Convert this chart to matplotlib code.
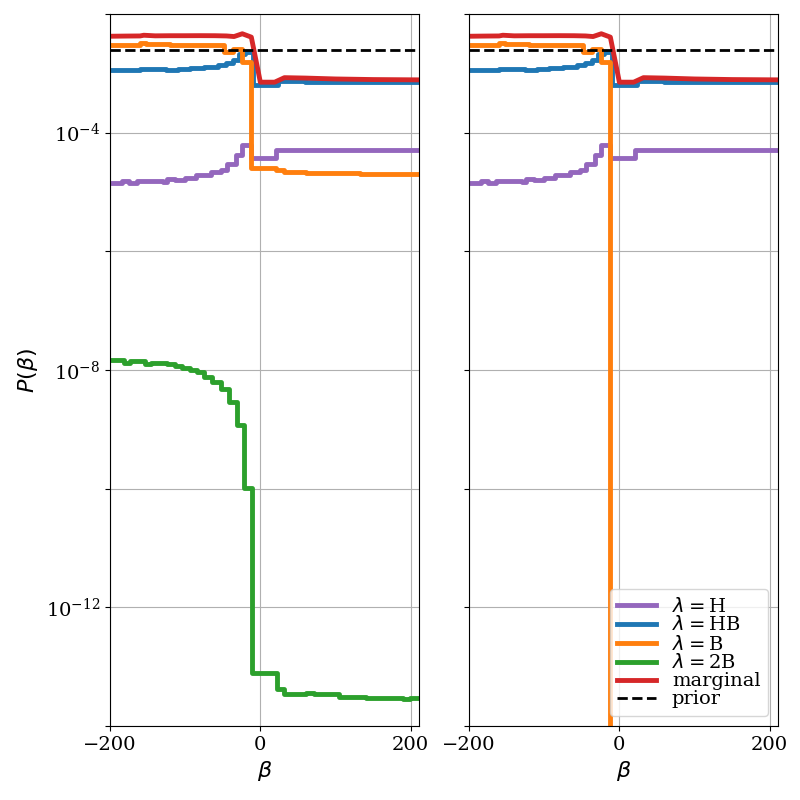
import numpy as np
import matplotlib
matplotlib.use('Agg')
import matplotlib.pyplot as plt

# step breakpoints (beta) and log10 P(beta)
beta_h = [-200, -184, -175, -164, -130, -124, -113, -100, -86, -66, -52, -44, -32, -24, -12, 21, 61, 211]
logp_h = [-4.84, -4.81, -4.84, -4.81, -4.825, -4.78, -4.79, -4.76, -4.72, -4.67, -4.63, -4.53, -4.38, -4.21,
          -4.42, -4.30, -4.29, -4.29]

beta_hb = [-200, -182, -160, -137, -126, -110, -93, -75, -57, -46, -37, -28, -21, -10, 23, 60, 211]
logp_hb = [-2.952, -2.945, -2.935, -2.93, -2.945, -2.92, -2.905, -2.885, -2.86, -2.83, -2.78, -2.67, -2.645,
           -3.204, -3.137, -3.152, -3.152]

beta_b = [-200, -160, -152, -120, -48, -37, -24, -12, 21, 32, 61, 132, 211]
logp_b = [-2.53, -2.495, -2.51, -2.515, -2.643, -2.587, -2.81, -4.59, -4.623, -4.663, -4.68, -4.70, -4.70]

# right panel: lambda = B drops to zero after the jump
beta_b_right = [-200, -160, -152, -120, -48, -37, -24, -12, 211]
logp_b_right = [-2.53, -2.495, -2.51, -2.515, -2.643, -2.587, -2.81, -300, -300]

beta_2b = [-200, -182, -173, -153, -146, -124, -113, -104, -93, -84, -75, -64, -53, -42, -31, -22, -11,
           22, 32, 61, 72, 105, 141, 190, 199, 211]
logp_2b = [-7.831, -7.877, -7.853, -7.899, -7.882, -7.899, -7.927, -7.960, -8.0, -8.039, -8.112, -8.196,
           -8.325, -8.533, -8.925, -9.99, -13.103, -13.372, -13.468, -13.44, -13.468, -13.507, -13.524,
           -13.55, -13.524, -13.524]
# right panel: lambda = 2B is zero everywhere
beta_2b_right = [-200, 211]
logp_2b_right = [-300, -300]

beta_m = [-200, -180, -160, -155, -140, -120, -100, -80, -60, -45, -35, -24, -12, 0, 19, 32, 60, 100, 150, 211]
logp_m = [-2.375, -2.372, -2.37, -2.358, -2.368, -2.366, -2.366, -2.365, -2.366, -2.37, -2.38, -2.333, -2.39,
          -3.149, -3.149, -3.073, -3.08, -3.095, -3.105, -3.11]

prior = 1 / 410

plt.rcParams['font.family'] = 'serif'
plt.rcParams['font.size'] = 14

fig, axes = plt.subplots(1, 2, figsize=(8, 8), sharey=True)
fig.subplots_adjust(left=0.1375, right=0.9725, bottom=0.0925, top=0.9825, wspace=0.162)

panels = [
    (beta_b, logp_b, beta_2b, logp_2b),
    (beta_b_right, logp_b_right, beta_2b_right, logp_2b_right),
]

lw = 3.5
for ax, (bb, lb, b2, l2) in zip(axes, panels):
    ax.plot(beta_h, 10 ** np.array(logp_h), drawstyle='steps-post', color='tab:purple', lw=lw,
            label=r'$\lambda=$H')
    ax.plot(beta_hb, 10 ** np.array(logp_hb), drawstyle='steps-post', color='tab:blue', lw=lw,
            label=r'$\lambda=$HB')
    ax.plot(bb, 10 ** np.array(lb, dtype=float), drawstyle='steps-post', color='tab:orange', lw=lw,
            label=r'$\lambda=$B')
    ax.plot(b2, 10 ** np.array(l2, dtype=float), drawstyle='steps-post', color='tab:green', lw=lw,
            label=r'$\lambda=$2B')
    ax.plot(beta_m, 10 ** np.array(logp_m), color='tab:red', lw=lw, label='marginal')
    ax.axhline(prior, color='k', ls='--', lw=2, label='prior')

    ax.set_yscale('log')
    ax.set_xlim(-200, 211)
    ax.set_ylim(1e-14, 1e-2)
    ax.set_xticks([-200, 0, 200])
    ax.set_xlabel(r'$\beta$', fontsize=16)
    ax.grid(True)

yt = [10.0 ** k for k in range(-14, -1, 2)]
ylabels = [r'$\mathdefault{10^{%d}}$' % k if k in (-4, -8, -12) else '' for k in range(-14, -1, 2)]
axes[0].set_yticks(yt, ylabels)
axes[0].yaxis.set_minor_locator(matplotlib.ticker.NullLocator())
axes[0].set_ylabel(r'$P(\beta)$', fontsize=16)

axes[1].legend(loc='lower right', fontsize=14, labelspacing=0.0)

plt.savefig('out.png', dpi=100)
